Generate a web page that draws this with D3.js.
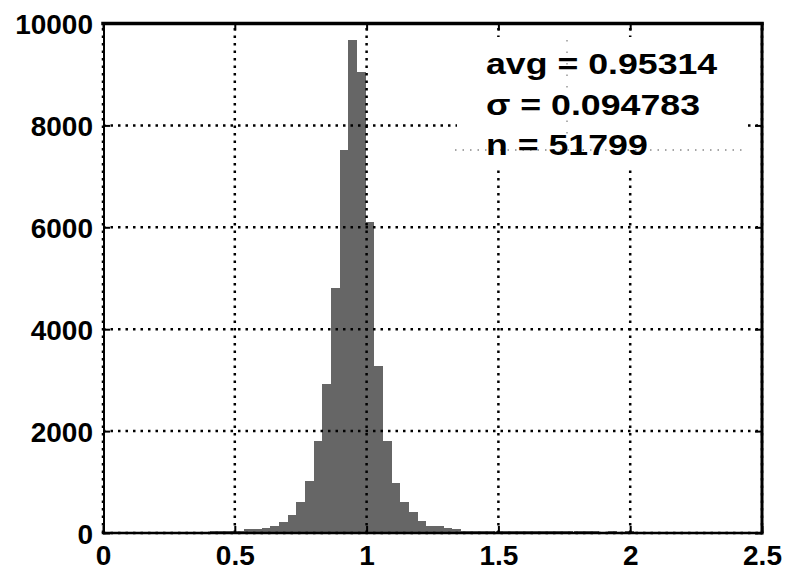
<!DOCTYPE html>
<html>
<head>
<meta charset="utf-8">
<script src="https://cdn.jsdelivr.net/npm/d3@7"></script>
<style>
  html, body { margin: 0; padding: 0; background: #fff; }
  svg { display: block; }
  text { font-family: "Liberation Sans", Arial, Helvetica, sans-serif; font-weight: bold; fill: #000; }
</style>
</head>
<body>
<div id="chart"></div>
<script>
// Histogram bins: left edge of each bin and its count
const binLefts = [
  0.405, 0.438, 0.471, 0.504, 0.536, 0.569, 0.602, 0.635, 0.668, 0.701,
  0.734, 0.766, 0.799, 0.832, 0.865, 0.898, 0.931, 0.963, 0.996, 1.029,
  1.062, 1.095, 1.128, 1.161, 1.193, 1.226, 1.259, 1.292, 1.325, 1.358,
  1.391, 1.423, 1.456, 1.489, 1.522, 1.555, 1.588, 1.620, 1.653, 1.686,
  1.719, 1.752, 1.785, 1.818, 1.850, 1.883, 1.916, 1.949, 1.982
];
const binWidth = 0.0329;
const counts = [
  45, 45, 45, 45, 84, 84, 104, 143, 208, 362,
  617, 1025, 1810, 2930, 4815, 7515, 9670, 9050, 6110, 3280,
  1810, 990, 617, 420, 244, 143, 143, 98, 75, 45,
  45, 45, 45, 45, 45, 45, 45, 45, 45, 45,
  45, 45, 45, 45, 45, 0, 45, 0, 45
];

// Axis ticks and labels
const xTicks = [0, 0.5, 1, 1.5, 2, 2.5];
const xTickLabels = ["0", "0.5", "1", "1.5", "2", "2.5"];
const yTicks = [0, 2000, 4000, 6000, 8000, 10000];
const yTickLabels = ["0", "2000", "4000", "6000", "8000", "10000"];

// Statistics text in the upper right corner
const statLines = ["avg = 0.95314", "\u03c3 = 0.094783", "n = 51799"];

const width = 785, height = 567;
const plot = {left: 103, right: 762, top: 23.5, bottom: 533};
const tickLen = 7;

const svg = d3.select("#chart").append("svg")
  .attr("width", width)
  .attr("height", height);

const xScale = d3.scaleLinear().domain([0, 2.5]).range([plot.left, plot.right]);
const yScale = d3.scaleLinear().domain([0, 10000]).range([plot.bottom, plot.top]);

// Bars
svg.append("g")
  .attr("shape-rendering", "crispEdges")
  .selectAll("rect")
  .data(counts.map((c, i) => ({x0: binLefts[i], count: c})).filter(d => d.count > 0))
  .join("rect")
  .attr("x", d => xScale(d.x0))
  .attr("width", d => xScale(d.x0 + binWidth) - xScale(d.x0))
  .attr("y", d => yScale(d.count))
  .attr("height", d => yScale(0) - yScale(d.count))
  .attr("fill", "#666666");

// Dotted grid, drawn over the bars
const grid = svg.append("g")
  .attr("stroke", "#000")
  .attr("stroke-width", 2.5)
  .attr("stroke-dasharray", "2.5,5");

grid.selectAll("line.gx")
  .data(xTicks)
  .join("line")
  .attr("class", "gx")
  .attr("x1", d => xScale(d)).attr("x2", d => xScale(d))
  .attr("y1", plot.bottom).attr("y2", plot.top);

grid.selectAll("line.gy")
  .data(yTicks)
  .join("line")
  .attr("class", "gy")
  .attr("x1", plot.left).attr("x2", plot.right)
  .attr("y1", d => yScale(d)).attr("y2", d => yScale(d));

// Text box with the statistics
const stats = svg.append("g");
stats.append("rect")
  .attr("x", 457).attr("y", 37)
  .attr("width", 291).attr("height", 132)
  .attr("fill", "#fff");

stats.append("line")
  .attr("x1", 455).attr("x2", 742)
  .attr("y1", 150).attr("y2", 150)
  .attr("stroke", "#888")
  .attr("stroke-width", 1.3)
  .attr("stroke-dasharray", "1.5,6");

stats.append("line")
  .attr("x1", 567).attr("x2", 567)
  .attr("y1", 40).attr("y2", 136)
  .attr("stroke", "#888")
  .attr("stroke-width", 1.3)
  .attr("stroke-dasharray", "1.5,10");

stats.selectAll("text")
  .data(statLines)
  .join("text")
  .attr("transform", (d, i) => `translate(486,${74 + i * 40.5}) scale(1.19,1)`)
  .style("font-size", "30px")
  .text(d => d);

// Axes: ticks point inward, labels on bottom and left only
const axisGroup = svg.append("g");

const bottomAxis = axisGroup.append("g")
  .attr("transform", `translate(0,${plot.bottom})`)
  .call(d3.axisBottom(xScale)
    .tickValues(xTicks)
    .tickSize(-tickLen)
    .tickPadding(12)
    .tickFormat((d, i) => xTickLabels[i]));

const leftAxis = axisGroup.append("g")
  .attr("transform", `translate(${plot.left},0)`)
  .call(d3.axisLeft(yScale)
    .tickValues(yTicks)
    .tickSize(-tickLen)
    .tickPadding(10)
    .tickFormat((d, i) => yTickLabels[i]));

axisGroup.append("g")
  .attr("transform", `translate(0,${plot.top})`)
  .call(d3.axisTop(xScale).tickValues(xTicks).tickSize(-tickLen).tickFormat(""));

axisGroup.append("g")
  .attr("transform", `translate(${plot.right},0)`)
  .call(d3.axisRight(yScale).tickValues(yTicks).tickSize(-tickLen).tickFormat(""));

axisGroup.selectAll(".domain").remove();
axisGroup.selectAll(".tick line").attr("stroke", "#000").attr("stroke-width", 2);
axisGroup.selectAll(".tick text")
  .attr("fill", "#000")
  .style("font-size", "28px")
  .style("font-family", "'Liberation Sans', Arial, Helvetica, sans-serif")
  .style("font-weight", "bold");

leftAxis.selectAll(".tick text").attr("dy", "0.36em");

// Box around the plot
const box = svg.append("g").attr("stroke", "#000").attr("stroke-linecap", "square");
box.append("line").attr("x1", plot.left).attr("x2", plot.right)
  .attr("y1", plot.top).attr("y2", plot.top).attr("stroke-width", 3.5);
box.append("line").attr("x1", plot.left).attr("x2", plot.right)
  .attr("y1", plot.bottom).attr("y2", plot.bottom).attr("stroke-width", 2.5);
box.append("line").attr("x1", plot.left + 1).attr("x2", plot.left + 1)
  .attr("y1", plot.top).attr("y2", plot.bottom).attr("stroke-width", 2);
box.append("line").attr("x1", plot.right).attr("x2", plot.right)
  .attr("y1", plot.top).attr("y2", plot.bottom).attr("stroke-width", 3);
</script>
</body>
</html>
